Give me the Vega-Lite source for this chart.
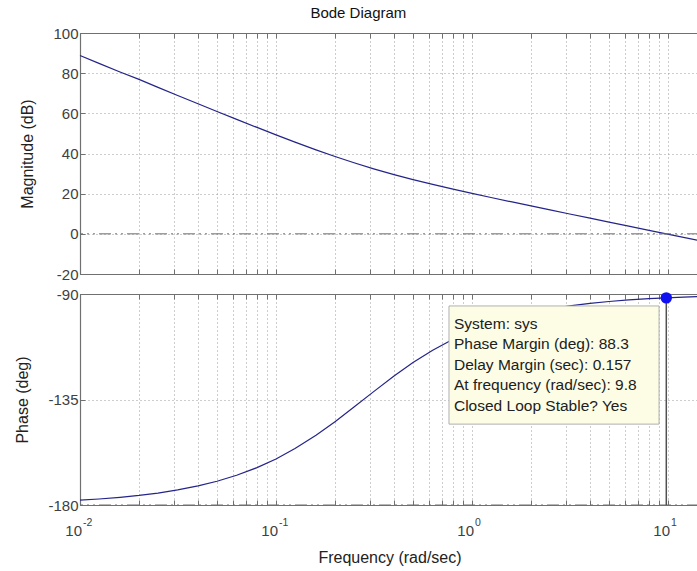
{
  "$schema": "https://vega.github.io/schema/vega-lite/v6.json",
  "autosize": {"type": "pad"},
  "padding": {"left": 14, "top": 6, "right": 0, "bottom": 4},
  "background": "white",
  "config": {
    "font": "Liberation Sans",
    "view": {"stroke": null},
    "axis": {"labelFont": "Liberation Sans", "titleFont": "Liberation Sans"}
  },
  "title": {"text": "Bode Diagram", "fontSize": 15, "fontWeight": "normal", "color": "#111111", "anchor": "middle", "offset": 5},
  "datasets": {
    "bode": [
      {"f": 0.01, "mag": 88.77, "phase": -177.95},
      {"f": 0.0125, "mag": 84.90, "phase": -177.44},
      {"f": 0.016, "mag": 80.61, "phase": -176.73},
      {"f": 0.02, "mag": 76.9, "phase": -175.91},
      {"f": 0.025, "mag": 72.95, "phase": -174.90},
      {"f": 0.0315, "mag": 68.9, "phase": -173.58},
      {"f": 0.04, "mag": 64.77, "phase": -171.87},
      {"f": 0.05, "mag": 60.94, "phase": -169.88},
      {"f": 0.063, "mag": 57.01, "phase": -167.32},
      {"f": 0.08, "mag": 52.98, "phase": -164.05},
      {"f": 0.1, "mag": 49.29, "phase": -160.35},
      {"f": 0.125, "mag": 45.68, "phase": -155.94},
      {"f": 0.16, "mag": 41.83, "phase": -150.26},
      {"f": 0.2, "mag": 38.51, "phase": -144.46},
      {"f": 0.25, "mag": 35.39, "phase": -138.24},
      {"f": 0.315, "mag": 32.38, "phase": -131.63},
      {"f": 0.4, "mag": 29.51, "phase": -124.99},
      {"f": 0.5, "mag": 27.02, "phase": -119.25},
      {"f": 0.63, "mag": 24.62, "phase": -113.96},
      {"f": 0.8, "mag": 22.26, "phase": -109.29},
      {"f": 1.0, "mag": 20.15, "phase": -105.64},
      {"f": 1.25, "mag": 18.09, "phase": -102.63},
      {"f": 1.6, "mag": 15.87, "phase": -99.93},
      {"f": 2.0, "mag": 13.88, "phase": -97.97},
      {"f": 2.5, "mag": 11.92, "phase": -96.39},
      {"f": 3.15, "mag": 9.89, "phase": -95.08},
      {"f": 4.0, "mag": 7.80, "phase": -94.00},
      {"f": 5.0, "mag": 5.85, "phase": -93.21},
      {"f": 6.3, "mag": 3.84, "phase": -92.54},
      {"f": 8.0, "mag": 1.76, "phase": -92.00},
      {"f": 9.8, "mag": 0.0, "phase": -91.64},
      {"f": 12.0, "mag": -1.76, "phase": -91.34},
      {"f": 14.39, "mag": -3.35, "phase": -91.11}
    ],
    "decades": [
      {"f": 0.01, "e": "-2"},
      {"f": 0.1, "e": "-1"},
      {"f": 1, "e": "0"},
      {"f": 10, "e": "1"}
    ],
    "margin": [
      {"f": 9.8, "phase": -91.64, "bottom": -180}
    ]
  },
  "vconcat": [
    {
      "width": 619,
      "height": 241,
      "layer": [
        {
          "data": {"name": "bode"},
          "mark": {"type": "line", "color": "#24248a", "strokeWidth": 1.2},
          "encoding": {
            "x": {
              "field": "f", "type": "quantitative",
              "scale": {"type": "log", "domain": [0.01, 14.39], "nice": false},
              "axis": {
                "orient": "bottom", "title": null, "labels": false,
                "values": [0.01,0.02,0.03,0.04,0.05,0.06,0.07,0.08,0.09,0.1,0.2,0.3,0.4,0.5,0.6,0.7,0.8,0.9,1,2,3,4,5,6,7,8,9,10],
                "grid": true, "gridDash": [1, 3], "gridColor": "#9a9a9a", "gridOpacity": 1,
                "tickSize": -5, "tickColor": "#707070", "domainColor": "#707070", "domainWidth": 1.2
              }
            },
            "y": {
              "field": "mag", "type": "quantitative",
              "scale": {"domain": [-20, 100], "nice": false, "zero": false},
              "axis": {
                "values": [-20, 0, 20, 40, 60, 80, 100],
                "labelExpr": "'' + datum.value",
                "title": "Magnitude (dB)", "titleFontSize": 16, "titleFontWeight": "normal", "titleColor": "#222222", "titlePadding": 17,
                "labelFontSize": 15, "labelColor": "#404040", "labelPadding": 7,
                "grid": true, "gridDash": [1, 3], "gridColor": "#9a9a9a", "gridOpacity": 1,
                "tickSize": -5, "tickColor": "#707070", "domainColor": "#707070", "domainWidth": 1.2
              }
            }
          }
        },
        {
          "data": {"name": "bode"},
          "mark": {"type": "point", "opacity": 0},
          "encoding": {
            "x": {
              "field": "f", "type": "quantitative",
              "axis": {
                "orient": "top", "title": null, "labels": false, "grid": false,
                "values": [0.01,0.02,0.03,0.04,0.05,0.06,0.07,0.08,0.09,0.1,0.2,0.3,0.4,0.5,0.6,0.7,0.8,0.9,1,2,3,4,5,6,7,8,9,10],
                "tickSize": -5, "tickColor": "#707070", "domainColor": "#707070", "domainWidth": 1.2
              }
            }
          }
        },
        {
          "data": {"values": [{}]},
          "mark": {"type": "rule", "color": "#6e6e6e", "strokeWidth": 1, "strokeDash": [12, 4, 2, 4, 2, 4]},
          "encoding": {"y": {"datum": 0, "type": "quantitative", "axis": null}}
        }
      ],
      "resolve": {"axis": {"x": "independent", "y": "independent"}}
    },
    {
      "width": 619,
      "height": 211,
      "layer": [
        {
          "data": {"name": "bode"},
          "mark": {"type": "line", "color": "#24248a", "strokeWidth": 1.2},
          "encoding": {
            "x": {
              "field": "f", "type": "quantitative",
              "scale": {"type": "log", "domain": [0.01, 14.39], "nice": false},
              "axis": {
                "orient": "bottom", "title": "Frequency  (rad/sec)", "titleFontSize": 16, "titleFontWeight": "normal", "titleColor": "#222222", "titlePadding": 44,
                "labels": false,
                "values": [0.01,0.02,0.03,0.04,0.05,0.06,0.07,0.08,0.09,0.1,0.2,0.3,0.4,0.5,0.6,0.7,0.8,0.9,1,2,3,4,5,6,7,8,9,10],
                "grid": true, "gridDash": [1, 3], "gridColor": "#9a9a9a", "gridOpacity": 1,
                "tickSize": -5, "tickColor": "#707070", "domainColor": "#707070", "domainWidth": 1.2
              }
            },
            "y": {
              "field": "phase", "type": "quantitative",
              "scale": {"domain": [-180, -90], "nice": false, "zero": false},
              "axis": {
                "values": [-180, -135, -90],
                "labelExpr": "'' + datum.value",
                "title": "Phase (deg)", "titleFontSize": 16, "titleFontWeight": "normal", "titleColor": "#222222", "titlePadding": 17,
                "labelFontSize": 15, "labelColor": "#404040", "labelPadding": 7,
                "grid": true, "gridDash": [1, 3], "gridColor": "#9a9a9a", "gridOpacity": 1,
                "tickSize": -5, "tickColor": "#707070", "domainColor": "#707070", "domainWidth": 1.2
              }
            }
          }
        },
        {
          "data": {"name": "bode"},
          "mark": {"type": "point", "opacity": 0},
          "encoding": {
            "x": {
              "field": "f", "type": "quantitative",
              "axis": {
                "orient": "top", "title": null, "labels": false, "grid": false,
                "values": [0.01,0.02,0.03,0.04,0.05,0.06,0.07,0.08,0.09,0.1,0.2,0.3,0.4,0.5,0.6,0.7,0.8,0.9,1,2,3,4,5,6,7,8,9,10],
                "tickSize": -5, "tickColor": "#707070", "domainColor": "#707070", "domainWidth": 1.2
              }
            }
          }
        },
        {
          "data": {"values": [{}]},
          "mark": {"type": "rule", "color": "#6e6e6e", "strokeWidth": 1, "strokeDash": [12, 4, 2, 4, 2, 4]},
          "encoding": {"y": {"datum": -180, "type": "quantitative", "axis": null}}
        },
        {
          "data": {"values": [{}]},
          "mark": {"type": "rect", "fill": "#fdfde6", "stroke": "#b0b0b0", "strokeWidth": 1},
          "encoding": {
            "x": {"datum": 0.763, "type": "quantitative", "axis": null},
            "x2": {"datum": 9.0},
            "y": {"datum": -95.1, "type": "quantitative", "axis": null},
            "y2": {"datum": -145.5}
          }
        },
        {
          "data": {"values": [{}]},
          "mark": {
            "type": "text", "align": "left", "baseline": "alphabetic", "fontSize": 15.5, "lineHeight": 20.5, "color": "#202020",
            "text": ["System: sys", "Phase Margin (deg): 88.3", "Delay Margin (sec): 0.157", "At frequency (rad/sec): 9.8", "Closed Loop Stable? Yes"]
          },
          "encoding": {
            "x": {"datum": 0.809, "type": "quantitative", "axis": null},
            "y": {"datum": -104.9, "type": "quantitative", "axis": null}
          }
        },
        {
          "data": {"name": "margin"},
          "mark": {"type": "rule", "color": "#505050", "strokeWidth": 1.5},
          "encoding": {
            "x": {"field": "f", "type": "quantitative", "axis": null},
            "y": {"field": "phase", "type": "quantitative", "axis": null},
            "y2": {"field": "bottom"}
          }
        },
        {
          "data": {"name": "margin"},
          "mark": {"type": "point", "filled": true, "color": "#1010f0", "opacity": 1, "size": 130},
          "encoding": {
            "x": {"field": "f", "type": "quantitative", "axis": null},
            "y": {"field": "phase", "type": "quantitative", "axis": null}
          }
        },
        {
          "data": {"name": "decades"},
          "mark": {"type": "text", "align": "right", "baseline": "alphabetic", "dx": 2, "dy": 31, "fontSize": 15, "color": "#404040"},
          "encoding": {
            "x": {"field": "f", "type": "quantitative", "axis": null},
            "y": {"datum": -180, "type": "quantitative", "axis": null},
            "text": {"value": "10"}
          }
        },
        {
          "data": {"name": "decades"},
          "mark": {"type": "text", "align": "left", "baseline": "alphabetic", "dx": 3, "dy": 21, "fontSize": 10.5, "color": "#404040"},
          "encoding": {
            "x": {"field": "f", "type": "quantitative", "axis": null},
            "y": {"datum": -180, "type": "quantitative", "axis": null},
            "text": {"field": "e"}
          }
        }
      ],
      "resolve": {"axis": {"x": "independent", "y": "independent"}}
    }
  ],
  "spacing": 20,
  "bounds": "flush"
}
